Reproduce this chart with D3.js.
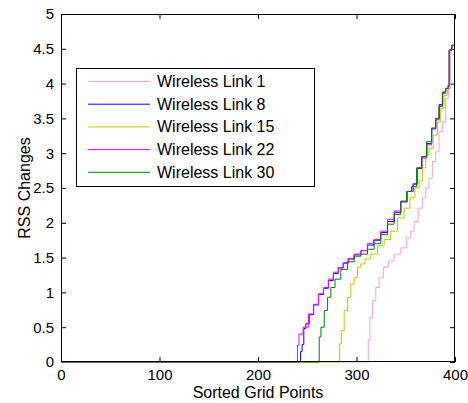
<!DOCTYPE html>
<html>
<head>
<meta charset="utf-8">
<script src="https://cdn.jsdelivr.net/npm/d3@7"></script>
<style>
  html, body { margin: 0; padding: 0; background: #fff; }
  svg { display: block; }
  text { font-family: "Liberation Sans", Arial, sans-serif; fill: #000; }
</style>
</head>
<body>
<svg id="chart" width="468" height="403"></svg>
<script>
// ---- data ----
const seriesNames = ["Wireless Link 1", "Wireless Link 8", "Wireless Link 15", "Wireless Link 22", "Wireless Link 30"];
const seriesColors = ["#ff9fcb", "#0000ff", "#c4c400", "#ff00ff", "#008000"];

const link1X = [0, 311, 312.8, 314.5, 317.9, 321.3, 324.7, 329.7, 334.8, 341.6, 348.3, 353.4, 356.8, 360.1, 365.2, 368.6, 372, 375.3, 378.7, 382.1, 385.5, 388.9, 392.2, 394.9, 396.3, 399, 400];
const link1Y = [0, 0, 0.31, 0.64, 0.88, 1.07, 1.21, 1.36, 1.45, 1.55, 1.64, 1.79, 1.88, 2.02, 2.21, 2.36, 2.5, 2.64, 2.88, 3.02, 3.31, 3.45, 3.79, 3.93, 4.5, 4.55, 4.56];

const link8X = [0, 243, 243.5, 246, 247, 250, 254, 259, 264, 269, 274, 279, 284, 289, 294, 301, 308, 314, 321, 328, 335, 342, 348, 355, 360, 364, 369, 374, 379, 382, 386, 389, 392, 394, 394.5, 399, 400];
const link8Y = [0, 0, 0.15, 0.25, 0.48, 0.55, 0.68, 0.82, 0.97, 1.06, 1.17, 1.27, 1.35, 1.42, 1.48, 1.54, 1.6, 1.68, 1.75, 1.86, 2.02, 2.15, 2.3, 2.45, 2.56, 2.78, 2.95, 3.14, 3.35, 3.5, 3.7, 3.87, 3.93, 3.97, 4.48, 4.55, 4.57];

const link15X = [0, 282.4, 283.4, 285.8, 289.2, 292.6, 295.9, 299.3, 302.7, 306.1, 311.1, 317.9, 324.7, 331.4, 338.2, 344.9, 351.7, 356.8, 361.8, 365.2, 368.6, 372, 375.3, 380.4, 383.8, 387.2, 390.5, 393.9, 394.6, 399, 400];
const link15Y = [0, 0, 0.26, 0.45, 0.74, 0.93, 1.12, 1.21, 1.36, 1.41, 1.48, 1.55, 1.67, 1.76, 1.88, 2.07, 2.21, 2.36, 2.5, 2.6, 2.79, 2.98, 3.07, 3.26, 3.45, 3.64, 3.83, 3.95, 4.48, 4.55, 4.56];

const link22X = [0, 240, 240.2, 243, 248.6, 253.7, 258.8, 263.9, 268.9, 274, 279, 284.1, 289.2, 294.3, 301, 307.8, 314.5, 321.3, 328, 334.8, 341.6, 348.3, 355.1, 360.1, 363.5, 368.6, 373.6, 378.7, 382.1, 385.5, 388.9, 392.2, 393.9, 394.2, 399, 400];
const link22Y = [0, 0, 0.24, 0.4, 0.5, 0.69, 0.83, 0.98, 1.07, 1.19, 1.29, 1.36, 1.43, 1.49, 1.55, 1.6, 1.7, 1.76, 1.88, 2.05, 2.17, 2.31, 2.45, 2.55, 2.79, 2.93, 3.12, 3.36, 3.5, 3.69, 3.86, 3.93, 3.98, 4.48, 4.55, 4.56];

const link30X = [0, 262, 262.3, 265.5, 269, 272.3, 275.7, 280.7, 287.5, 294.3, 301, 307.8, 314.5, 321.3, 328, 334.8, 341.6, 348.3, 353.4, 358.4, 363.5, 368.6, 373.6, 378.7, 382.1, 385.5, 388.9, 392.2, 393.9, 394.2, 399, 400];
const link30Y = [0, 0, 0.36, 0.5, 0.74, 0.93, 1.07, 1.19, 1.33, 1.44, 1.52, 1.55, 1.62, 1.7, 1.83, 1.98, 2.12, 2.31, 2.45, 2.52, 2.79, 2.95, 3.17, 3.36, 3.48, 3.67, 3.88, 3.93, 3.96, 4.48, 4.55, 4.56];

const xTicks = [0, 100, 200, 300, 400];
const yTicks = [0, 0.5, 1, 1.5, 2, 2.5, 3, 3.5, 4, 4.5, 5];
const xLabel = "Sorted Grid Points";
const yLabel = "RSS Changes";

const seriesXs = [link1X, link8X, link15X, link22X, link30X];
const seriesYs = [link1Y, link8Y, link15Y, link22Y, link30Y];

// ---- layout ----
const padL = 61, padR = 455, padT = 14, padB = 362;
const svg = d3.select("#chart");
const x = d3.scaleLinear().domain([0, 400]).range([padL, padR]);
const y = d3.scaleLinear().domain([0, 5]).range([padB, padT]);

const fmt = d => String(d);
const tickLen = 5;

// axes (ticks inside)
svg.append("g").attr("transform", `translate(0,${padB})`)
  .call(d3.axisBottom(x).tickValues(xTicks).tickFormat(fmt).tickSizeInner(-tickLen).tickSizeOuter(0).tickPadding(7))
  .call(g => g.select(".domain").remove())
  .call(g => g.selectAll("text").style("font-size", "15px").attr("font-family", null));
svg.append("g").attr("transform", `translate(0,${padT})`)
  .call(d3.axisTop(x).tickValues(xTicks).tickFormat("").tickSizeInner(-tickLen).tickSizeOuter(0))
  .call(g => g.select(".domain").remove());
svg.append("g").attr("transform", `translate(${padL},0)`)
  .call(d3.axisLeft(y).tickValues(yTicks).tickFormat(fmt).tickSizeInner(-tickLen).tickSizeOuter(0).tickPadding(7))
  .call(g => g.select(".domain").remove())
  .call(g => g.selectAll("text").style("font-size", "15px").attr("font-family", null));
svg.append("g").attr("transform", `translate(${padR},0)`)
  .call(d3.axisRight(y).tickValues(yTicks).tickFormat("").tickSizeInner(-tickLen).tickSizeOuter(0))
  .call(g => g.select(".domain").remove());
svg.selectAll(".tick line").attr("stroke", "#000");

// series
const line = d3.line().curve(d3.curveStep).x(d => x(d[0])).y(d => y(d[1]));
seriesXs.forEach((xs, i) => {
  const pts = xs.map((v, j) => [v, seriesYs[i][j]]);
  svg.append("path").attr("d", line(pts))
    .attr("fill", "none").attr("stroke", seriesColors[i]).attr("stroke-width", 1);
});

// frame
svg.append("rect").attr("x", padL + 0.5).attr("y", padT + 0.5)
  .attr("width", padR - padL - 1).attr("height", padB - padT - 1)
  .attr("fill", "none").attr("stroke", "#000").attr("stroke-width", 1);

// labels
svg.append("text").attr("x", (padL + padR) / 2).attr("y", 397.5)
  .attr("text-anchor", "middle").style("font-size", "16px").text(xLabel);
svg.append("text").attr("transform", `translate(30,${(padT + padB) / 2}) rotate(-90)`)
  .attr("text-anchor", "middle").style("font-size", "16px").text(yLabel);

// legend
const lg = svg.append("g");
lg.append("rect").attr("x", 76.5).attr("y", 68.5).attr("width", 238).attr("height", 118)
  .attr("fill", "#fff").attr("stroke", "#000").attr("stroke-width", 1);
seriesNames.forEach((name, i) => {
  const cy = 81.5 + i * 22.7;
  lg.append("line").attr("x1", 88).attr("x2", 150).attr("y1", cy).attr("y2", cy)
    .attr("stroke", seriesColors[i]).attr("stroke-width", 1);
  lg.append("text").attr("x", 157).attr("y", cy + 5.5).style("font-size", "16px").text(name);
});
</script>
</body>
</html>
